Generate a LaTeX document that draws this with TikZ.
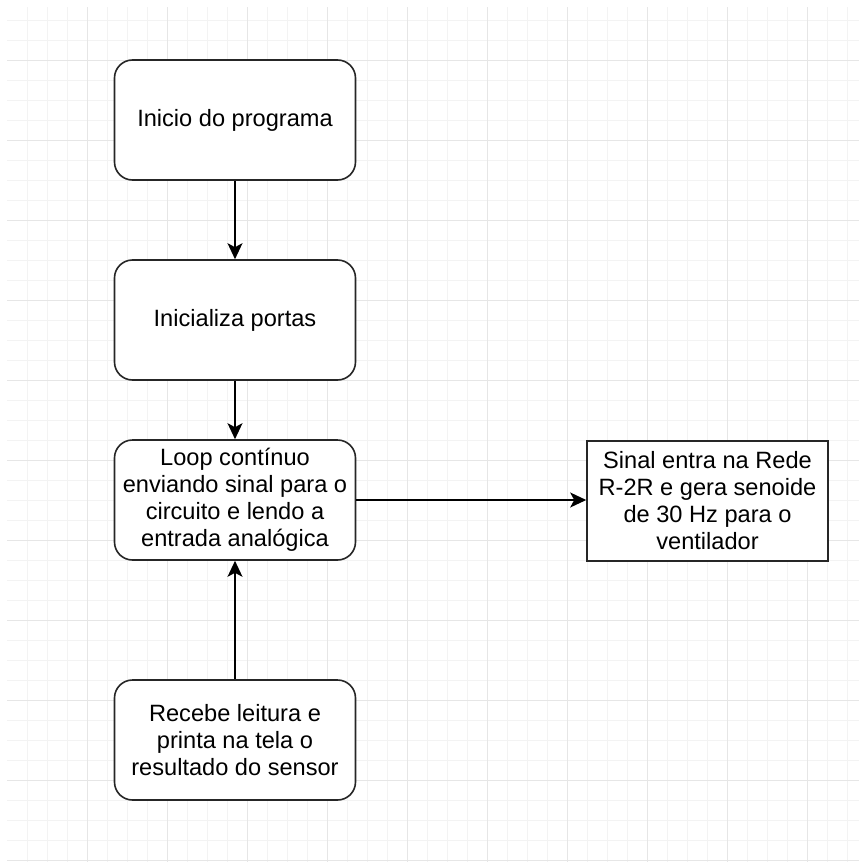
\documentclass[tikz,border=0pt]{standalone}
\usepackage{fontspec}
\setmainfont{Liberation Sans}
\usetikzlibrary{arrows.meta}
\definecolor{gridminor}{HTML}{F3F3F3}
\definecolor{gridmajor}{HTML}{E6E6E6}
\tikzset{
  stepbox/.style={draw=black!85, line width=1.6pt, rounded corners=18pt, fill=white,
    minimum width=241pt, minimum height=120pt, align=center, inner sep=0pt,
    font=\fontsize{23.6}{27}\selectfont},
  plainbox/.style={stepbox, rounded corners=0pt},
  flow/.style={draw=black, line width=1.6pt, -{Stealth[length=16pt,width=15pt,inset=4pt]}}
}
\begin{document}
\begin{tikzpicture}[x=1pt,y=-1pt]
\useasboundingbox (0,0) rectangle (859,862);
\fill[white] (0,0) rectangle (859,862);
% minor grid
\foreach \x in {27,47,...,847} \draw[gridminor, line width=1pt] (\x,7) -- (\x,862);
\foreach \y in {20,40,...,860} \draw[gridminor, line width=1pt] (7,\y) -- (859,\y);
% major grid
\foreach \x in {87,167,...,807} \draw[gridmajor, line width=1pt] (\x,7) -- (\x,862);
\foreach \y in {60,140,...,860} \draw[gridmajor, line width=1pt] (7,\y) -- (859,\y);

\node[stepbox] (inicio) at (235,120) {Inicio do programa};
\node[stepbox] (portas) at (235,320) {Inicializa portas};
\node[stepbox] (loop) at (235,500) {Loop contínuo\\enviando sinal para o\\circuito e lendo a\\entrada analógica};
\node[plainbox] (sinal) at (707.5,501) {Sinal entra na Rede\\R-2R e gera senoide\\de 30 Hz para o\\ventilador};
\node[stepbox] (recebe) at (235,740) {Recebe leitura e\\printa na tela o\\resultado do sensor};

\draw[flow] (inicio) -- (portas);
\draw[flow] (portas) -- (loop);
\draw[flow] (recebe) -- (loop);
\draw[flow] (loop.east) -- (loop.east -| sinal.west);
\end{tikzpicture}
\end{document}
